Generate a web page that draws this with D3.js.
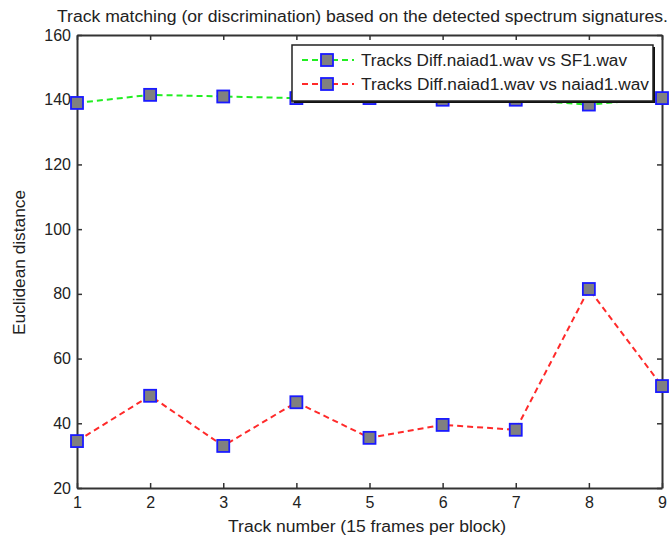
<!DOCTYPE html>
<html>
<head>
<meta charset="utf-8">
<script src="https://cdn.jsdelivr.net/npm/d3@7"></script>
<style>
body { margin: 0; background: #fff; }
text { font-family: "Liberation Sans", Arial, sans-serif; fill: #222; }
</style>
</head>
<body>
<script>
var width = 672, height = 539;

var tracks = [1, 2, 3, 4, 5, 6, 7, 8, 9];
var diffSF1 = [139, 141.5, 141, 140.5, 140.5, 140, 140, 138.5, 140.5];
var diffNaiad = [34.5, 48.5, 33, 46.5, 35.5, 39.5, 38, 81.5, 51.5];
var yTicks = [20, 40, 60, 80, 100, 120, 140, 160];
var seriesNames = ["Tracks Diff.naiad1.wav vs SF1.wav", "Tracks Diff.naiad1.wav vs naiad1.wav"];
var seriesColors = ["#22ee22", "#ff2a2a"];
var legendLen = [266, 288];

var m = {left: 77, right: 10, top: 35, bottom: 51};
var pw = width - m.left - m.right, ph = height - m.top - m.bottom;

var svg = d3.select("body").append("svg")
            .attr("width", width).attr("height", height);

var x = d3.scaleLinear().domain([1, 9]).range([m.left, m.left + pw]);
var y = d3.scaleLinear().domain([20, 160]).range([m.top + ph, m.top]);

// axes, ticks inward, box on all four sides
var axisColor = "#333";
svg.append("g").attr("transform", "translate(0," + (m.top + ph) + ")")
   .call(d3.axisBottom(x).tickValues(tracks).tickSizeInner(-5).tickSizeOuter(0).tickPadding(9));
svg.append("g").attr("transform", "translate(" + m.left + ",0)")
   .call(d3.axisLeft(y).tickValues(yTicks).tickSizeInner(-5).tickSizeOuter(0).tickPadding(6));
svg.append("g").attr("transform", "translate(0," + m.top + ")")
   .call(d3.axisTop(x).tickValues(tracks).tickSizeInner(-5).tickSizeOuter(0).tickFormat(""));
svg.append("g").attr("transform", "translate(" + (m.left + pw) + ",0)")
   .call(d3.axisRight(y).tickValues(yTicks).tickSizeInner(-5).tickSizeOuter(0).tickFormat(""));

svg.selectAll(".domain").attr("stroke", axisColor).attr("stroke-width", 2);
svg.selectAll(".tick line").attr("stroke", axisColor).attr("stroke-width", 1.5);
svg.selectAll(".tick text").attr("font-size", 16).attr("fill", "#222")
   .attr("font-family", "Liberation Sans, Arial, sans-serif");

var line = d3.line().x(function(d, i){ return x(tracks[i]); }).y(function(d){ return y(d); });

var allSeries = [diffSF1, diffNaiad];
allSeries.forEach(function(s, k){
    svg.append("path").attr("d", line(s)).attr("fill", "none")
       .attr("stroke", seriesColors[k]).attr("stroke-width", 2)
       .attr("stroke-dasharray", "6,4");
});
allSeries.forEach(function(s){
    svg.append("g").selectAll("rect").data(s).enter().append("rect")
       .attr("x", function(d, i){ return x(tracks[i]) - 6; })
       .attr("y", function(d){ return y(d) - 6; })
       .attr("width", 12).attr("height", 12)
       .attr("fill", "#808080").attr("stroke", "#1a1aff").attr("stroke-width", 1.8);
});

// legend
var lg = svg.append("g").attr("transform", "translate(292,45)");
lg.append("rect").attr("x", 2).attr("y", 2).attr("width", 361).attr("height", 56).attr("fill", "#111");
lg.append("rect").attr("width", 361).attr("height", 56).attr("fill", "#fff")
  .attr("stroke", "#222").attr("stroke-width", 1.5);
var legend = lg.selectAll(".legends").data(seriesNames).enter().append("g")
  .attr("transform", function(d, i){ return "translate(0," + (15 + i * 24) + ")"; });
legend.append("line").attr("x1", 10).attr("x2", 62).attr("y1", 0).attr("y2", 0)
  .attr("stroke", function(d, i){ return seriesColors[i]; }).attr("stroke-width", 2)
  .attr("stroke-dasharray", "6,4");
legend.append("rect").attr("x", 29).attr("y", -6).attr("width", 12).attr("height", 12)
  .attr("fill", "#808080").attr("stroke", "#1a1aff").attr("stroke-width", 1.8);
legend.append("text").attr("x", 69).attr("y", 6).attr("font-size", 16)
  .attr("textLength", function(d, i){ return legendLen[i]; }).attr("lengthAdjust", "spacingAndGlyphs")
  .text(function(d){ return d; });

// titles
svg.append("text").attr("x", 57).attr("y", 22).attr("font-size", 16)
   .attr("textLength", 611).attr("lengthAdjust", "spacingAndGlyphs")
   .text("Track matching (or discrimination) based on the detected spectrum signatures.");
svg.append("text").attr("x", 228).attr("y", 532).attr("font-size", 16)
   .attr("textLength", 278).attr("lengthAdjust", "spacingAndGlyphs")
   .text("Track number (15 frames per block)");
svg.append("text").attr("transform", "translate(25,335) rotate(-90)")
   .attr("font-size", 16).attr("textLength", 145).attr("lengthAdjust", "spacingAndGlyphs")
   .text("Euclidean distance");
</script>
</body>
</html>
